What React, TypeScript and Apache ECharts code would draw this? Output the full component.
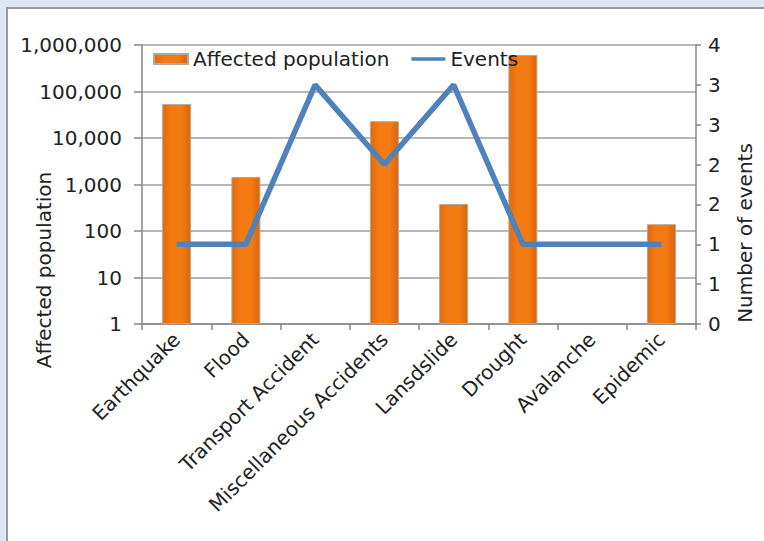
import React, { useEffect, useRef } from "react";
import * as echarts from "echarts";

const categories = [
  "Earthquake",
  "Flood",
  "Transport Accident",
  "Miscellaneous Accidents",
  "Lansdslide",
  "Drought",
  "Avalanche",
  "Epidemic",
];
const affectedPopulation: (number | null)[] = [54000, 1450, null, 23000, 380, 610000, null, 140];
const events: number[] = [1, 1, 3, 2, 3, 1, 1, 1];
const leftAxisName = "Affected population";
const rightAxisName = "Number of events";

const FONT = "DejaVu Sans, Verdana, sans-serif";
const TEXT = "#222222";
const FS = 20;

export default function App() {
  const ref = useRef<HTMLDivElement>(null);
  useEffect(() => {
    if (!ref.current) return;
    const chart = echarts.init(ref.current, null, { renderer: "svg" });
    const barColor = new echarts.graphic.LinearGradient(0, 0, 1, 0, [
      { offset: 0, color: "#e06a0c" },
      { offset: 0.3, color: "#f47a12" },
      { offset: 0.7, color: "#f47a12" },
      { offset: 1, color: "#d9650a" },
    ]);
    chart.setOption({
      animation: false,
      backgroundColor: "#dde7f3",
      textStyle: { fontFamily: FONT },
      graphic: [
        {
          type: "rect",
          shape: { x: 7, y: 8, width: 800, height: 600 },
          style: { fill: "#ffffff", stroke: "#9a9a9a", lineWidth: 2 },
          z: -10,
          silent: true,
        },
        {
          type: "text",
          x: 44,
          y: 270,
          rotation: Math.PI / 2,
          style: {
            text: leftAxisName,
            fill: TEXT,
            font: `${FS}px ${FONT}`,
            align: "center",
            verticalAlign: "middle",
          },
        },
        {
          type: "text",
          x: 745,
          y: 233,
          rotation: Math.PI / 2,
          style: {
            text: rightAxisName,
            fill: TEXT,
            font: `${FS}px ${FONT}`,
            align: "center",
            verticalAlign: "middle",
          },
        },
      ],
      legend: {
        left: 148,
        top: 44,
        itemGap: 22,
        itemWidth: 34,
        itemHeight: 10,
        z: 10,
        textStyle: { fontSize: FS, color: TEXT, fontFamily: FONT },
        data: [
          { name: "Affected population", icon: "rect" },
          {
            name: "Events",
            icon: "path://M0,0L0.01,0L0,0Z M0,10L0.01,10L0,10Z M0,3.3L34,3.3L34,6.7L0,6.7Z",
          },
        ],
      },
      grid: { left: 142, right: 68, top: 45, bottom: 217 },
      xAxis: {
        type: "category",
        data: categories,
        axisLine: { lineStyle: { color: "#868686", width: 1.5 } },
        axisTick: { show: true, length: 6, lineStyle: { color: "#868686", width: 1.5 } },
        axisLabel: {
          rotate: 45,
          interval: 0,
          fontSize: FS,
          color: TEXT,
          fontFamily: FONT,
          margin: 12,
        },
      },
      yAxis: [
        {
          type: "log",
          logBase: 10,
          min: 1,
          max: 1000000,
          axisLine: { show: true, lineStyle: { color: "#868686", width: 1.5 } },
          axisTick: { show: true, length: 8, lineStyle: { color: "#868686", width: 1.5 } },
          splitLine: { show: true, lineStyle: { color: "#a0a0a0", width: 1.5 } },
          axisLabel: {
            fontSize: FS,
            color: TEXT,
            fontFamily: FONT,
            margin: 20,
            formatter: (v: number) => Math.round(v).toLocaleString("en-US"),
          },
        },
        {
          type: "value",
          min: 0,
          max: 3.5,
          interval: 0.5,
          position: "right",
          axisLine: { show: true, lineStyle: { color: "#868686", width: 1.5 } },
          axisTick: { show: true, length: 5, inside: false, lineStyle: { color: "#868686", width: 1.5 } },
          splitLine: { show: false },
          axisLabel: {
            fontSize: FS,
            color: TEXT,
            fontFamily: FONT,
            margin: 12,
            formatter: (v: number) => String(Math.round(v)),
          },
        },
      ],
      series: [
        {
          name: "Affected population",
          type: "bar",
          yAxisIndex: 0,
          barWidth: 29,
          data: affectedPopulation.map((v) => (v == null ? "-" : v)),
          itemStyle: { color: barColor, borderColor: "#b9a796", borderWidth: 1 },
          z: 2,
        },
        {
          name: "Events",
          type: "line",
          yAxisIndex: 1,
          data: events,
          showSymbol: false,
          symbol: "none",
          lineStyle: { color: "#4f81bd", width: 5.5 },
          itemStyle: { color: "#4f81bd" },
          z: 3,
        },
      ],
    });
    return () => chart.dispose();
  }, []);
  return (
    <div
      ref={ref}
      style={{ position: "absolute", left: 0, top: 0, width: 764, height: 541 }}
    />
  );
}
